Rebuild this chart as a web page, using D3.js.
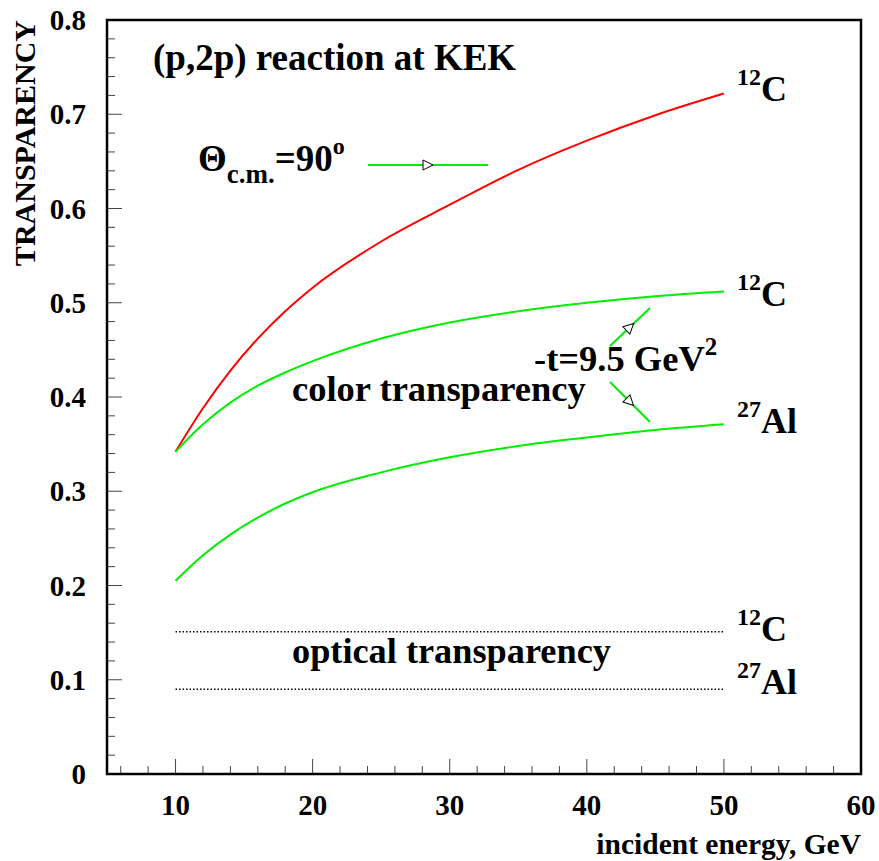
<!DOCTYPE html>
<html><head><meta charset="utf-8">
<script src="https://cdn.jsdelivr.net/npm/d3@7"></script>
<style>body{margin:0;background:#fff}</style>
</head><body><svg id="c" width="879" height="861"></svg>
<script>
const energy = [10,12,14,16,18,20,25,30,35,40,45,50];
const ctRed12C = [0.342,0.388,0.428,0.462,0.491,0.516,0.565,0.604,0.641,0.672,0.699,0.722];
const ctGreen12C = [0.342,0.371,0.394,0.412,0.426,0.438,0.462,0.479,0.491,0.500,0.507,0.512];
const ctGreen27Al = [0.205,0.232,0.254,0.272,0.287,0.299,0.320,0.336,0.348,0.357,0.365,0.371];
const opticalX = [10,50];
const optical12C = [0.151,0.151];
const optical27Al = [0.090,0.090];
const xTicks = [10,20,30,40,50,60];
const yTicks = [0,0.1,0.2,0.3,0.4,0.5,0.6,0.7,0.8];
const nucleusLabels = [
  {sup:"12", base:"C",  v:0.722, dy:7},
  {sup:"12", base:"C",  v:0.512, dy:15},
  {sup:"27", base:"Al", v:0.371, dy:9},
  {sup:"12", base:"C",  v:0.151, dy:9},
  {sup:"27", base:"Al", v:0.090, dy:5}
];

const FONT = "Liberation Serif";
const svg = d3.select("#c");
const txt = (sel)=>sel.append("text").attr("font-family",FONT).attr("font-weight","bold");
const L=107,R=861,T=20,B=774;
const x = d3.scaleLinear().domain([5,60]).range([L,R]);
const y = d3.scaleLinear().domain([0,0.8]).range([B,T]);

// ticks
const g = svg.append("g");
d3.range(6,60.001,2).forEach(v=>{
  const major = Math.abs(v%10)<1e-6;
  g.append("line").attr("x1",x(v)).attr("x2",x(v)).attr("y1",B).attr("y2",B-(major?15:8)).attr("stroke","#444").attr("stroke-width",1);
});
d3.range(0,0.8001,0.02).forEach(v=>{
  const major = Math.abs(Math.round(v*100)%10)<1e-6;
  g.append("line").attr("x1",L).attr("x2",L+(major?15:8)).attr("y1",y(v)).attr("y2",y(v)).attr("stroke","#444").attr("stroke-width",1);
});
svg.append("rect").attr("x",L).attr("y",T).attr("width",R-L).attr("height",B-T).attr("fill","none").attr("stroke","#000").attr("stroke-width",2.5);

xTicks.forEach(d=>txt(svg).attr("x",x(d)).attr("y",815).attr("text-anchor","middle").attr("font-size",29).text(d));
yTicks.forEach(d=>txt(svg).attr("x",86).attr("y",y(d)+10).attr("text-anchor","end").attr("font-size",29).text(d===0?"0":d.toFixed(1)));
txt(svg).attr("x",861).attr("y",854).attr("text-anchor","end").attr("font-size",29.5).text("incident energy, GeV");
txt(svg).attr("transform","translate(35,20) rotate(-90)").attr("text-anchor","end").attr("font-size",30).text("TRANSPARENCY");

const line = d3.line().x(d=>x(d[0])).y(d=>y(d[1])).curve(d3.curveMonotoneX);
const zip = (a,b)=>a.map((v,i)=>[v,b[i]]);
svg.append("path").attr("d",line(zip(energy,ctRed12C))).attr("fill","none").attr("stroke","#ff0000").attr("stroke-width",2);
svg.append("path").attr("d",line(zip(energy,ctGreen12C))).attr("fill","none").attr("stroke","#00ee00").attr("stroke-width",2);
svg.append("path").attr("d",line(zip(energy,ctGreen27Al))).attr("fill","none").attr("stroke","#00ee00").attr("stroke-width",2);
[optical12C,optical27Al].forEach(s=>{
  svg.append("path").attr("d",d3.line().x(d=>x(d[0])).y(d=>y(d[1]))(zip(opticalX,s))).attr("fill","none").attr("stroke","#000").attr("stroke-width",1.5).attr("stroke-dasharray","1.5,2");
});

// nucleus labels
nucleusLabels.forEach(d=>{
  const t = txt(svg).attr("x",737).attr("y",y(d.v)+d.dy).attr("font-size",36);
  t.append("tspan").attr("font-size",24).attr("dy",-16).text(d.sup);
  t.append("tspan").attr("dy",16).text(d.base);
});

txt(svg).attr("x",153).attr("y",70).attr("font-size",37).text("(p,2p) reaction at KEK");
txt(svg).attr("x",292).attr("y",401).attr("font-size",36.5).text("color transparency");
txt(svg).attr("x",292).attr("y",663).attr("font-size",36.3).text("optical transparency");
const th = txt(svg).attr("x",198).attr("y",171).attr("font-size",37);
th.append("tspan").text("Θ");
th.append("tspan").attr("font-size",27).attr("dy",12).text("c.m.");
th.append("tspan").attr("dy",-12).text("=90");
th.append("tspan").attr("font-size",24).attr("dy",-17).text("o");
const tt = txt(svg).attr("x",534).attr("y",371).attr("font-size",36.5);
tt.append("tspan").text("-t=9.5 GeV");
tt.append("tspan").attr("font-size",25).attr("dy",-16).text("2");

// annotation arrows
function arrowLine(x1,y1,x2,y2){
  svg.append("line").attr("x1",x1).attr("y1",y1).attr("x2",x2).attr("y2",y2).attr("stroke","#00ee00").attr("stroke-width",2);
  const mx=(x1+x2)/2,my=(y1+y2)/2,ang=Math.atan2(y2-y1,x2-x1)*180/Math.PI;
  svg.append("path").attr("d","M5,0 L-5,-5 L-5,5 Z").attr("transform",`translate(${mx},${my}) rotate(${ang})`).attr("fill","#fff").attr("stroke","#000").attr("stroke-width",1);
}
arrowLine(368,165,488,165);
arrowLine(610,346,650,308);
arrowLine(610,382,650,422);
</script></body></html>
